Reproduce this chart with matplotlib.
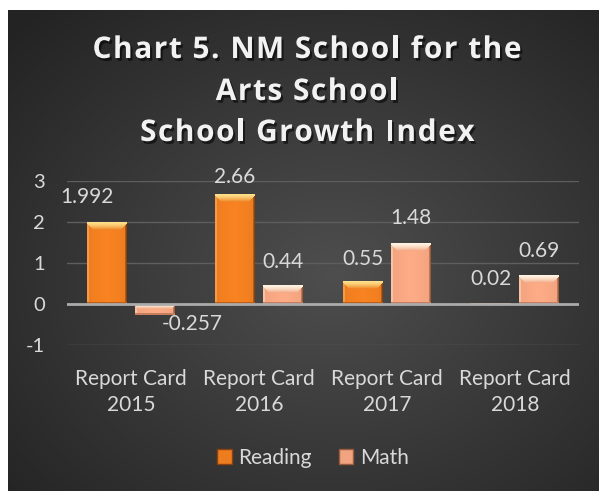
import numpy as np
import matplotlib
matplotlib.use("Agg")
import matplotlib.pyplot as plt
import matplotlib.patheffects as pe
from matplotlib.patches import Patch
from matplotlib.colors import to_rgb
from matplotlib.font_manager import FontProperties

# ===========================
# DATA
# ===========================
categories = ["Report Card\n2015", "Report Card\n2016", "Report Card\n2017", "Report Card\n2018"]
reading = [1.992, 2.66, 0.55, 0.02]
math_vals = [-0.257, 0.44, 1.48, 0.69]
reading_labels = ["1.992", "2.66", "0.55", "0.02"]
math_labels = ["-0.257", "0.44", "1.48", "0.69"]
yticks = [-1, 0, 1, 2, 3]
title_lines = ["Chart 5. NM School for the", "Arts School", "School Growth Index"]

# label offsets in pixels (dx, dy) from bar end, manual tweaks like the original
reading_off = [(-20, 25), (0, 18), (0, 22), (0, 24)]
math_off = [(37, -9), (0, 24), (0, 25), (0, 25)]

# ===========================
# STYLE
# ===========================
W, H = 599, 491
FONT = "Lato"
TXT = "#d9d9d9"
R_COL = dict(base="#ee7d20", light="#ffe08a", side="#f59a45", dark="#8a4110")
M_COL = dict(base="#f2a480", light="#fff4e2", side="#f8c2a4", dark="#9a5a3c")


def bevel_image(w, h, c, bt=7, bs=2, bb=2):
    yy, xx = np.mgrid[0:h, 0:w].astype(float)
    base = np.array(to_rgb(c["base"]))
    light = np.array(to_rgb(c["light"]))
    side = np.array(to_rgb(c["side"]))
    dark = np.array(to_rgb(c["dark"]))
    img = np.tile(base, (h, w, 1))
    # slight lighter vertical stripe in the face
    cx = np.abs(xx - (w - 1) / 2) / max((w - 1) / 2, 1)
    img = img * (1.0 + 0.05 * (1 - cx))[..., None]
    # left / right edges
    img[(xx < bs)] = side
    img[(xx >= w - bs)] = dark * 0.6 + base * 0.4
    img[(xx >= w - 1)] = dark
    # bottom edge
    img[(yy >= h - bb)] = dark * 0.5 + base * 0.5
    # top bevel with gradient, trimmed at corners
    t = (yy + 0.5) / bt
    top = (t < 1) & (yy <= xx + 1) & (yy <= (w - 1 - xx) + 1)
    mix = (np.clip(t, 0, 1) ** 1.6)[..., None]
    grad = light * (1 - mix) + base * mix
    img[top] = grad[top]
    return np.clip(img, 0, 1)


def spaced_text(fig, renderer, s, cx, cy, spacing, prop, **kw):
    # draw a line of text with extra letter spacing (pixels), centred on cx, cy
    widths = [renderer.get_text_width_height_descent(s[:i], prop, ismath=False)[0] if i else 0.0
              for i in range(len(s) + 1)]
    total = widths[-1] + spacing * (len(s) - 1)
    x0 = cx - total / 2
    for i, ch in enumerate(s):
        if ch == " ":
            continue
        fig.text((x0 + widths[i] + spacing * i) / W, cy / H, ch, ha="left", va="center",
                 fontproperties=prop, **kw)


def main():
    fig = plt.figure(figsize=(W / 100, H / 100), dpi=100, facecolor="white")

    # background panel with radial gradient
    bg = fig.add_axes([8 / W, 0, (W - 8) / W, (H - 10) / H])
    bg.set_axis_off()
    gy, gx = np.mgrid[0:1:300j, 0:1:360j]
    r = np.sqrt(((gx - 0.55) / 0.75) ** 2 + ((gy - 0.55) / 0.75) ** 2)
    r = np.clip(r, 0, 1)
    c_in = np.array(to_rgb("#4e4e4e"))
    c_out = np.array(to_rgb("#232323"))
    grad = c_in[None, None, :] * (1 - r[..., None]) + c_out[None, None, :] * r[..., None]
    bg.imshow(grad, extent=(0, 1, 0, 1), aspect="auto", origin="upper")

    ax = fig.add_axes([67 / W, (H - 345) / H, 512 / W, 164 / H])
    ax.set_facecolor("none")
    ax.set_xlim(-0.5, len(categories) - 0.5)
    ax.set_ylim(-1, 3)

    x = np.arange(len(categories))
    bw = 0.3125
    off = 0.19
    for g in yticks:
        if g != 0:
            ax.axhline(g, color="#5e5e5e", lw=1, zorder=1)
    ax.axhline(0, color="#ababab", lw=2, zorder=4)

    rb = ax.bar(x - off, reading, bw, color=R_COL["base"], zorder=2, label="Reading")
    mb = ax.bar(x + off, math_vals, bw, color=M_COL["base"], zorder=2, label="Math")

    # bevel overlay
    fig.canvas.draw()
    renderer = fig.canvas.get_renderer()
    sx = ax.transData.transform((1, 0))[0] - ax.transData.transform((0, 0))[0]
    sy = ax.transData.transform((0, 1))[1] - ax.transData.transform((0, 0))[1]
    for bars, cdict in ((rb, R_COL), (mb, M_COL)):
        for p in bars:
            x0, y0 = p.get_x(), p.get_y()
            w, h = p.get_width(), p.get_height()
            yb, yt = min(y0, y0 + h), max(y0, y0 + h)
            wp = max(int(round(w * sx)), 1)
            hp = max(int(round((yt - yb) * sy)), 1)
            img = bevel_image(wp, hp, cdict, bt=min(8, max(hp // 2, 1)), bb=min(2, max(hp // 4, 1)))
            ax.imshow(img, extent=(x0, x0 + w, yb, yt), origin="upper",
                      aspect="auto", zorder=3, interpolation="nearest")
    ax.set_xlim(-0.5, len(categories) - 0.5)
    ax.set_ylim(-1, 3)

    # data labels
    for bars, labs, offs in ((rb, reading_labels, reading_off), (mb, math_labels, math_off)):
        for p, lab, (dx, dy) in zip(bars, labs, offs):
            yv = p.get_y() + p.get_height()
            ax.annotate(lab, (p.get_x() + p.get_width() / 2, yv),
                        xytext=(dx, dy), textcoords="offset pixels",
                        ha="center", va="center", color=TXT, fontsize=15,
                        family=FONT, zorder=5, annotation_clip=False)

    for s in ax.spines.values():
        s.set_visible(False)
    ax.set_yticks(yticks)
    ax.set_yticklabels([str(t) for t in yticks])
    ax.set_xticks(x)
    ax.set_xticklabels(categories, linespacing=1.4)
    ax.tick_params(axis="y", length=0, pad=16, labelsize=14.5, labelcolor=TXT)
    ax.tick_params(axis="x", length=0, pad=17, labelsize=15, labelcolor=TXT)
    for t in ax.get_xticklabels() + ax.get_yticklabels():
        t.set_family(FONT)

    # title, with Excel-like letter spacing
    tprop = FontProperties(family="Open Sans", weight="bold", size=21.5)
    shadow = [pe.withSimplePatchShadow(offset=(1.5, -2), shadow_rgbFace="black", alpha=0.55)]
    for line, cy in zip(title_lines, (50, 92, 133)):
        spaced_text(fig, renderer, line, 307, H - cy, 1.5, tprop,
                    color="#f2f2f2", path_effects=shadow)

    # legend
    handles = [Patch(facecolor=R_COL["base"], edgecolor=R_COL["dark"], label="Reading"),
               Patch(facecolor=M_COL["base"], edgecolor=M_COL["dark"], label="Math")]
    fig.legend(handles=handles, loc="center", bbox_to_anchor=(313 / W, (H - 458) / H),
               ncol=2, frameon=False, handlelength=0.7, handleheight=0.7,
               handletextpad=0.3, columnspacing=1.3,
               prop=dict(family=FONT, size=15), labelcolor=TXT)

    fig.savefig("out.png", dpi=100, facecolor="white")


if __name__ == "__main__":
    main()
